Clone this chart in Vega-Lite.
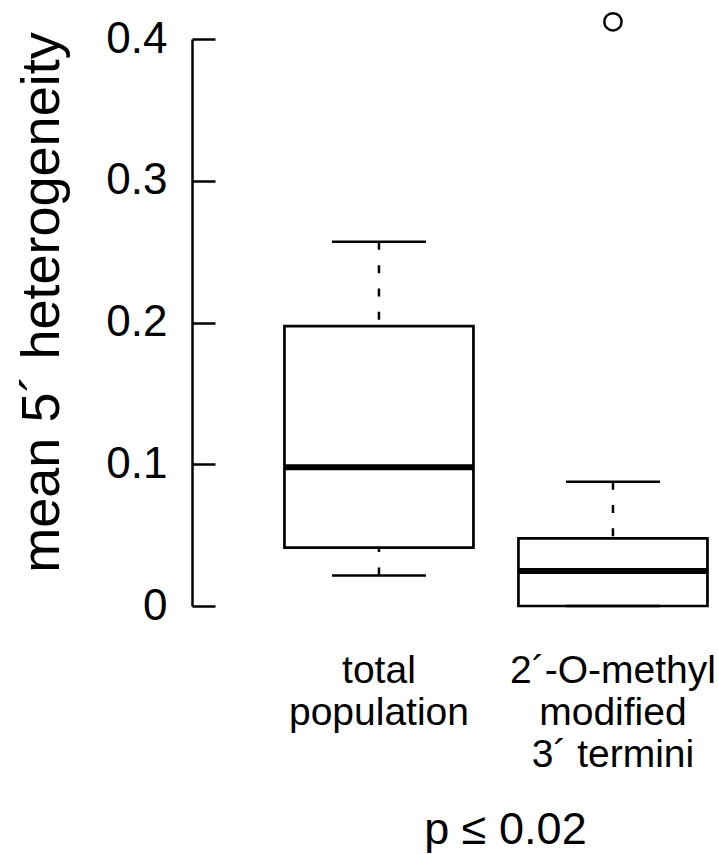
{
  "$schema": "https://vega.github.io/schema/vega-lite/v6.json",
  "autosize": "none",
  "width": 527,
  "height": 567,
  "padding": {"left": 192, "top": 39, "right": 0, "bottom": 248},
  "background": "white",
  "config": {
    "view": {"stroke": null},
    "font": "Liberation Sans",
    "axis": {"grid": false, "labelColor": "black", "titleColor": "black", "titleFontWeight": "normal", "labelFont": "Liberation Sans", "titleFont": "Liberation Sans"}
  },
  "datasets": {
    "boxes": [
      {"group": "total population", "lower": 0.0216, "q1": 0.0412, "median": 0.0979, "q3": 0.1974, "upper": 0.2569},
      {"group": "2´-O-methyl modified 3´ termini", "lower": 0.0, "q1": 0.0, "median": 0.0247, "q3": 0.0477, "upper": 0.0877}
    ],
    "outliers": [
      {"group": "2´-O-methyl modified 3´ termini", "value": 0.4121}
    ]
  },
  "encoding": {
    "x": {
      "field": "group",
      "type": "nominal",
      "sort": ["total population", "2´-O-methyl modified 3´ termini"],
      "scale": {"domain": ["total population", "2´-O-methyl modified 3´ termini"], "paddingInner": 0.1923, "paddingOuter": 0.2222, "align": 0.889},
      "axis": {
        "title": "p ≤ 0.02",
        "titleFontSize": 45,
        "titleX": 313,
        "titleY": 237,
        "titleBaseline": "alphabetic",
        "titleAlign": "center",
        "domain": false,
        "ticks": false,
        "labelAngle": 0,
        "labelFontSize": 39,
        "labelLineHeight": 42,
        "labelPadding": 45,
        "labelLimit": 400,
        "labelAlign": "center",
        "labelBaseline": "top",
        "labelExpr": "datum.label == 'total population' ? ['total', 'population'] : ['2´-O-methyl', 'modified', '3´ termini']"
      }
    }
  },
  "layer": [
    {
      "data": {"name": "boxes"},
      "mark": {"type": "rule", "color": "black", "strokeWidth": 2.5, "strokeDash": [8, 15.3]},
      "encoding": {
        "y": {
          "field": "upper",
          "type": "quantitative",
          "scale": {"domain": [0, 0.4], "nice": false, "zero": false},
          "axis": {
            "title": "mean 5´ heterogeneity",
            "titleFontSize": 54,
            "titleX": -134,
            "titleY": 263,
            "titleAngle": -90,
            "titleBaseline": "alphabetic",
            "titleAlign": "center",
            "values": [0, 0.1, 0.2, 0.3, 0.4],
            "labelExpr": "datum.value == 0 ? '0' : format(datum.value, '.1f')",
            "labelFontSize": 44,
            "labelPadding": 48,
            "tickSize": -23,
            "tickWidth": 2.5,
            "tickColor": "black",
            "domainColor": "black",
            "domainWidth": 2.5
          }
        },
        "y2": {"field": "q3"}
      }
    },
    {
      "data": {"name": "boxes"},
      "mark": {"type": "rule", "color": "black", "strokeWidth": 2.5, "strokeDash": [8, 15.3]},
      "encoding": {
        "y": {"field": "lower", "type": "quantitative", "title": "mean 5´ heterogeneity"},
        "y2": {"field": "q1"}
      }
    },
    {
      "data": {"name": "boxes"},
      "mark": {"type": "bar", "fill": "white", "stroke": "black", "strokeWidth": 2.7},
      "encoding": {
        "y": {"field": "q1", "type": "quantitative", "title": "mean 5´ heterogeneity"},
        "y2": {"field": "q3"}
      }
    },
    {
      "data": {"name": "boxes"},
      "mark": {"type": "tick", "color": "black", "size": 189, "thickness": 6, "opacity": 1},
      "encoding": {
        "y": {"field": "median", "type": "quantitative", "title": "mean 5´ heterogeneity"}
      }
    },
    {
      "data": {"name": "boxes"},
      "mark": {"type": "tick", "color": "black", "size": 94, "thickness": 2.5, "opacity": 1},
      "encoding": {
        "y": {"field": "upper", "type": "quantitative", "title": "mean 5´ heterogeneity"}
      }
    },
    {
      "data": {"name": "boxes"},
      "mark": {"type": "tick", "color": "black", "size": 94, "thickness": 2.5, "opacity": 1},
      "encoding": {
        "y": {"field": "lower", "type": "quantitative", "title": "mean 5´ heterogeneity"}
      }
    },
    {
      "data": {"name": "outliers"},
      "mark": {"type": "point", "shape": "circle", "filled": false, "stroke": "black", "strokeWidth": 2.5, "size": 300, "opacity": 1},
      "encoding": {
        "y": {"field": "value", "type": "quantitative", "title": "mean 5´ heterogeneity"}
      }
    }
  ]
}
